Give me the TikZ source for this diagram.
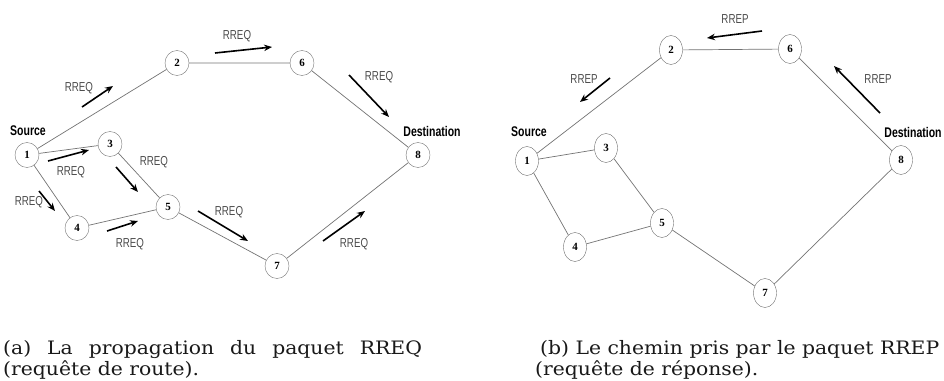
\documentclass[tikz,border=0pt]{standalone}
\usepackage{fontspec}
\setmainfont{Liberation Serif}
\newfontfamily\capfont{DejaVu Serif}[FakeStretch=1.1]
\newfontfamily\lblfont{Liberation Sans}[FakeStretch=0.75]
\usetikzlibrary{arrows.meta, shapes.geometric}
\definecolor{linegray}{gray}{0.45}
\definecolor{txtgray}{gray}{0.3}

\begin{document}
\begin{tikzpicture}[x=1pt, y=-1pt, >={Stealth[length=8pt,width=6.5pt]},
    station/.style={ellipse, draw=linegray, inner sep=0pt, minimum width=24pt, minimum height=25pt,
                    font=\bfseries\fontsize{11}{11}\selectfont},
    tall/.style={minimum width=23pt, minimum height=29pt},
    link/.style={draw=linegray, line width=0.7pt},
    msg/.style={->, line width=1.6pt},
    lbl/.style={text=txtgray, font=\lblfont\fontsize{13}{13}\selectfont},
    tag/.style={font=\lblfont\bfseries\fontsize{14}{14}\selectfont},
    legend/.style={anchor=base west, inner sep=0pt, text=black!90, font=\capfont\fontsize{18.5}{18.5}\selectfont}]
    \useasboundingbox (0,0) rectangle (944,380);

    % (a) RREQ
    \node (a1) [station] at (27,155) {1};
    \node (a2) [station] at (177,63) {2};
    \node (a3) [station] at (110,144) {3};
    \node (a4) [station] at (77,228) {4};
    \node (a5) [station] at (168,207) {5};
    \node (a6) [station] at (302,63) {6};
    \node (a7) [station] at (277,266) {7};
    \node (a8) [station] at (418,155) {8};
    \node (asrc) [tag] at (28,131) {Source};
    \node (adst) [tag] at (432,131) {Destination};

    \draw[link] (a1) -- (a2) -- (a6) -- (a8) -- (a7) -- (a5) -- (a3) -- (a1) -- (a4) -- (a5);

    \draw[msg] (82,107) -- (113,86);   \node (q1) [lbl] at (79,88) {RREQ};
    \draw[msg] (215,53) -- (272,47);   \node (q2) [lbl] at (237,36) {RREQ};
    \draw[msg] (349,75) -- (389,117);  \node (q3) [lbl] at (379,77) {RREQ};
    \draw[msg] (48,161) -- (89,150);   \node (q4) [lbl] at (71,172) {RREQ};
    \draw[msg] (116,167) -- (138,192); \node (q5) [lbl] at (154,162) {RREQ};
    \draw[msg] (39,191) -- (55,211);   \node (q6) [lbl] at (29,202) {RREQ};
    \draw[msg] (107,231) -- (138,221); \node (q7) [lbl] at (130,244) {RREQ};
    \draw[msg] (198,211) -- (248,241); \node (q8) [lbl] at (229,212) {RREQ};
    \draw[msg] (323,241) -- (365,211); \node (q9) [lbl] at (354,244) {RREQ};

    % (b) RREP
    \node (b1) [station, tall] at (527,161) {1};
    \node (b2) [station, tall] at (671,50) {2};
    \node (b3) [station, tall] at (606,148) {3};
    \node (b4) [station, tall] at (575,247) {4};
    \node (b5) [station, tall] at (662,223) {5};
    \node (b6) [station, tall] at (790,49) {6};
    \node (b7) [station, tall] at (765,293) {7};
    \node (b8) [station, tall] at (901,160) {8};
    \node (bsrc) [tag] at (529,132) {Source};
    \node (bdst) [tag] at (913,132) {Destination};

    \draw[link] (b1) -- (b2) -- (b6) -- (b8) -- (b7) -- (b5) -- (b3) -- (b1) -- (b4) -- (b5);

    \draw[msg] (762,31) -- (707,38);   \node (p1) [lbl] at (735,19) {RREP};
    \draw[msg] (610,78) -- (580,102);  \node (p2) [lbl] at (584,79) {RREP};
    \draw[msg] (880,113) -- (834,66);  \node (p3) [lbl] at (878,79) {RREP};

    % captions
    \node (capa) [legend] at (3,354) {(a)\hspace{16pt}La\hspace{16pt}propagation\hspace{16pt}du\hspace{16pt}paquet\hspace{16pt}RREQ};
    \node (capa2) [legend] at (3,375) {(requête de route).};
    \node (capb) [legend] at (540,354) {(b) Le chemin pris par le paquet RREP};
    \node (capb2) [legend] at (535,375) {(requête de réponse).};
\end{tikzpicture}
\end{document}
